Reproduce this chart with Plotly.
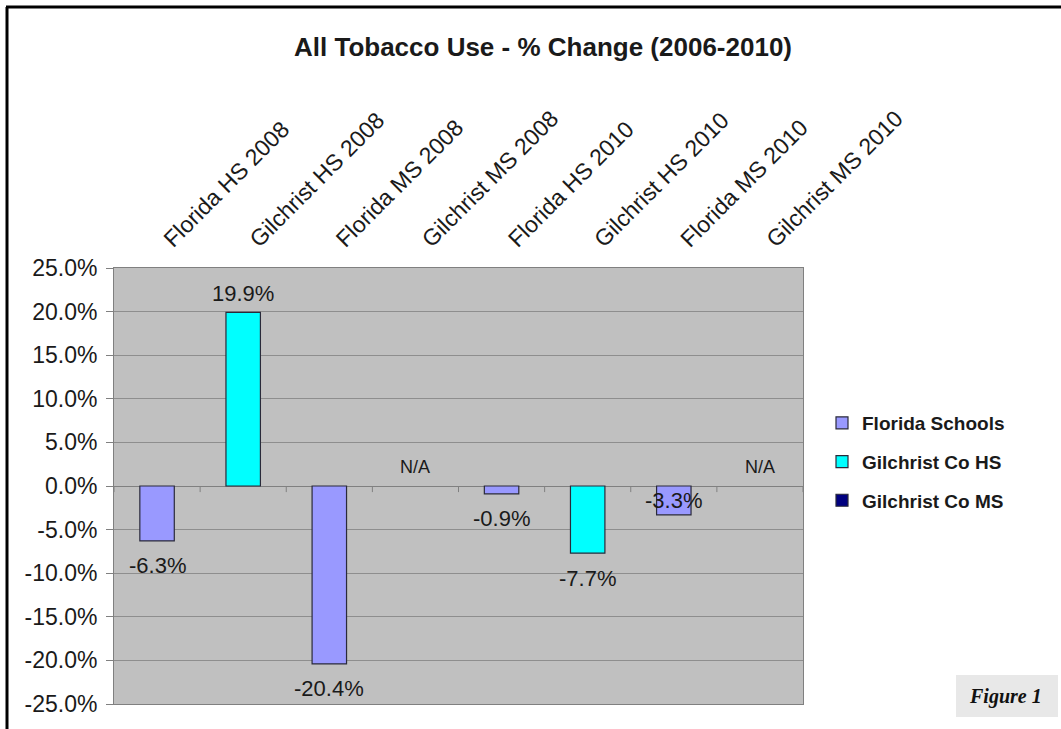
import plotly.graph_objects as go

# Category labels along the top axis
categories = [
    "Florida HS 2008", "Gilchrist HS 2008", "Florida MS 2008", "Gilchrist MS 2008",
    "Florida HS 2010", "Gilchrist HS 2010", "Florida MS 2010", "Gilchrist MS 2010",
]

# Percent change per series (None = N/A)
florida_cats = ["Florida HS 2008", "Florida MS 2008", "Florida HS 2010", "Florida MS 2010"]
florida_vals = [-6.3, -20.4, -0.9, -3.3]

gil_hs_cats = ["Gilchrist HS 2008", "Gilchrist HS 2010"]
gil_hs_vals = [19.9, -7.7]

gil_ms_cats = ["Gilchrist MS 2008", "Gilchrist MS 2010"]
gil_ms_vals = [None, None]

y_ticks = [-25, -20, -15, -10, -5, 0, 5, 10, 15, 20, 25]
y_tick_labels = [f"{v:.1f}%" for v in y_ticks]

W, H = 1061, 729
ML, MR, MT, MB = 114, 258, 268, 25
PW, PH = W - ML - MR, H - MT - MB


def px(x):
    return (x - ML) / PW


def py(y):
    return (H - MB - y) / PH


FONT = "Liberation Sans, Arial, sans-serif"
TXT = "#1a1a1a"

fig = go.Figure()
series = [
    ("Florida Schools", florida_cats, florida_vals, "#9999FF"),
    ("Gilchrist Co HS", gil_hs_cats, gil_hs_vals, "#00FFFF"),
    ("Gilchrist Co MS", gil_ms_cats, gil_ms_vals, "#000080"),
]
for name, cats, vals, color in series:
    fig.add_trace(go.Bar(
        x=cats, y=vals, name=name, legendgroup=name,
        width=0.4,
        marker=dict(color=color, line=dict(color="#2a2a3a", width=1.2)),
        hoverinfo="skip",
    ))

# Value labels placed past the bar ends
annotations = []
label_near_axis = {"Florida MS 2010"}
for name, cats, vals, color in series:
    for c, v in zip(cats, vals):
        if v is None:
            annotations.append(dict(x=c, y=0, yshift=19, text="N/A", showarrow=False,
                                    font=dict(family=FONT, size=18, color=TXT)))
            continue
        if c in label_near_axis:
            y, shift = 0, -14
        else:
            y, shift = v, (19 if v >= 0 else -25)
        annotations.append(dict(x=c, y=y, yshift=shift, text=f"{v:.1f}%", showarrow=False,
                                font=dict(family=FONT, size=22, color=TXT)))

annotations.append(dict(
    xref="paper", yref="paper", x=px(1005), y=py(696),
    xanchor="center", yanchor="middle",
    text="<b><i>Figure 1</i></b>", showarrow=False,
    font=dict(family="Liberation Serif, Times New Roman, serif", size=20, color="#111"),
))

shapes = []
# Category tick marks along the zero line
for i in range(len(categories) + 1):
    shapes.append(dict(type="line", xref="x", yref="y", x0=i - 0.5, x1=i - 0.5,
                       y0=0, y1=-0.7, line=dict(color="#808080", width=1)))
# Figure caption box
shapes.append(dict(type="rect", xref="paper", yref="paper", layer="below",
                   x0=px(956), x1=px(1058), y0=py(717), y1=py(675),
                   fillcolor="#E8E8E8", line=dict(width=0)))
# Page frame lines
shapes.append(dict(type="line", xref="paper", yref="paper",
                   x0=px(7), x1=px(7), y0=py(7), y1=py(740),
                   line=dict(color="black", width=3)))
shapes.append(dict(type="line", xref="paper", yref="paper",
                   x0=px(6), x1=px(1070), y0=py(7), y1=py(7),
                   line=dict(color="black", width=3)))

fig.update_layout(
    width=W, height=H,
    margin=dict(l=ML, r=MR, t=MT, b=MB),
    paper_bgcolor="white",
    plot_bgcolor="#C0C0C0",
    barmode="overlay",
    title=dict(text="<b>All Tobacco Use - % Change (2006-2010)</b>",
               xref="container", yref="container",
               x=543 / W, xanchor="center", y=1 - 47 / H, yanchor="middle",
               font=dict(family=FONT, size=26, color=TXT)),
    showlegend=True,
    legend=dict(x=px(822), y=py(404), xanchor="left", yanchor="top",
                traceorder="grouped", tracegroupgap=11,
                font=dict(family=FONT, size=19, color=TXT, weight="bold"),
                bgcolor="rgba(0,0,0,0)"),
    annotations=annotations,
    shapes=shapes,
    xaxis=dict(
        type="category", categoryorder="array", categoryarray=categories,
        side="top", tickangle=-45, showgrid=False, ticks="",
        tickfont=dict(family=FONT, size=23, color=TXT),
        ticklabelstandoff=6, ticklabelshift=8,
        showline=True, linecolor="#808080", linewidth=1, mirror=True,
        range=[-0.5, len(categories) - 0.5],
    ),
    yaxis=dict(
        range=[-25, 25], tickvals=y_ticks, ticktext=y_tick_labels,
        tickfont=dict(family=FONT, size=23, color=TXT),
        ticklabelstandoff=4,
        showgrid=True, gridcolor="#8E8E8E", gridwidth=1,
        zeroline=True, zerolinecolor="#808080", zerolinewidth=1,
        ticks="outside", ticklen=7, tickcolor="#808080",
        showline=True, linecolor="#808080", linewidth=1, mirror=True,
    ),
)

fig.write_html("out.html")
